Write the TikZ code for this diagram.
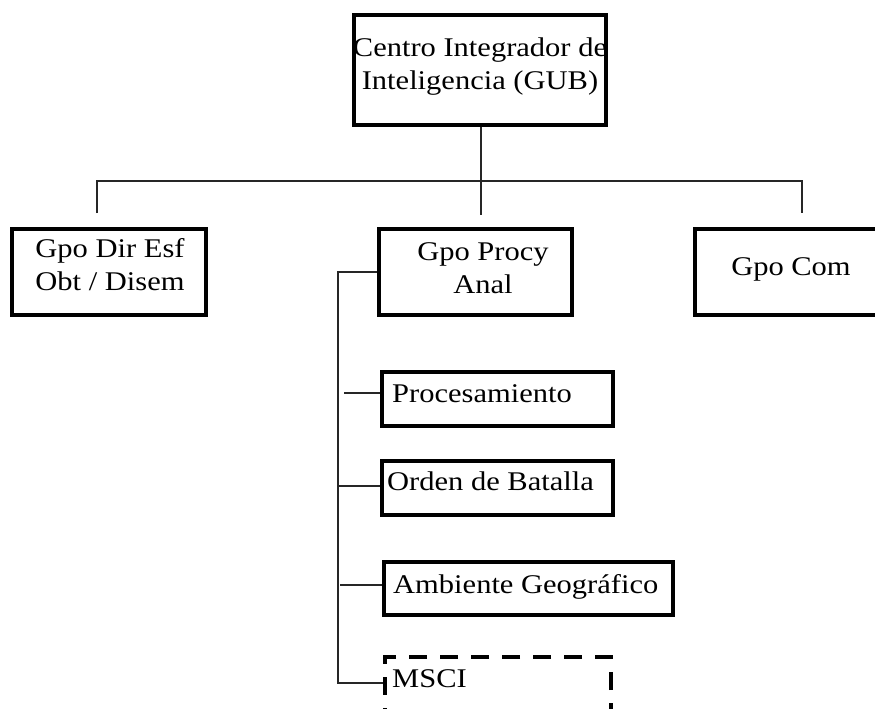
\documentclass[tikz,border=0pt]{standalone}
\usepackage{fontspec}
\setmainfont{Liberation Serif}[FakeStretch=1.13]
\begin{document}
\begin{tikzpicture}[x=1pt,y=-1pt,
  box/.style={draw=black, line width=4pt, inner sep=0pt, fill=white},
  dbox/.style={box, dash pattern=on 18pt off 13pt},
  txt/.style={inner sep=0pt, font=\fontsize{27}{33}\selectfont},
  conn/.style={draw=black!85, line width=1.4pt}]
\clip (0,0) rectangle (875,709);
\fill[white] (0,0) rectangle (875,709);
% connector points
\coordinate (busL) at (97,181);
\coordinate (busR) at (802,181);
\coordinate (dL) at (97,213);
\coordinate (dR) at (802,213);
\coordinate (dM) at (481,215);
\coordinate (spTop) at (338,272);
\coordinate (b1) at (344,393);
\coordinate (b2) at (338,486);
\coordinate (b3) at (340,585);
% boxes
\node[box, minimum width=252pt, minimum height=110pt] (top) at (480,70) {};
\node[box, minimum width=194pt, minimum height=86pt] (dir) at (109,272) {};
\node[box, minimum width=193pt, minimum height=86pt] (procy) at (475.5,272) {};
\node[box, minimum width=193pt, minimum height=86pt] (com) at (791.5,272) {};
\node[box, minimum width=231pt, minimum height=54pt] (proc) at (497.5,399) {};
\node[box, minimum width=231pt, minimum height=54pt] (orden) at (497.5,488) {};
\node[box, minimum width=289pt, minimum height=53pt] (amb) at (528.5,588.5) {};
\node[dbox, minimum width=226pt, minimum height=55pt] (msci) at (498,684.5) {};
% connectors
\draw[conn] (top.south -| dM) -- (dM);
\draw[conn] (dL) -- (busL) -- (busR) -- (dR);
\draw[conn] (procy.west) -- (spTop) -- (spTop |- 0,683) -- (msci.west |- 0,683);
\draw[conn] (b1) -- (b1 -| proc.west);
\draw[conn] (b2) -- (b2 -| orden.west);
\draw[conn] (b3) -- (b3 -| amb.west);
% texts
\node[txt, align=center] (toptxt) at (480,67) {Centro Integrador de\\Inteligencia (GUB)};
\node[txt, align=center] (dirtxt) at (110,264.5) {Gpo Dir Esf\\Obt / Disem};
\node[txt, align=center] (procytxt) at (483,268.3) {Gpo Procy\\Anal};
\node[txt, anchor=base] (comtxt) at (791,275) {Gpo Com};
\node[txt, anchor=base west] (proctxt) at (392,402) {Procesamiento};
\node[txt, anchor=base west] (ordentxt) at (387,490) {Orden de Batalla};
\node[txt, anchor=base west] (ambtxt) at (393,593) {Ambiente Geográfico};
\node[txt, anchor=base west] (mscitxt) at (392,687) {MSCI};
\end{tikzpicture}
\end{document}
